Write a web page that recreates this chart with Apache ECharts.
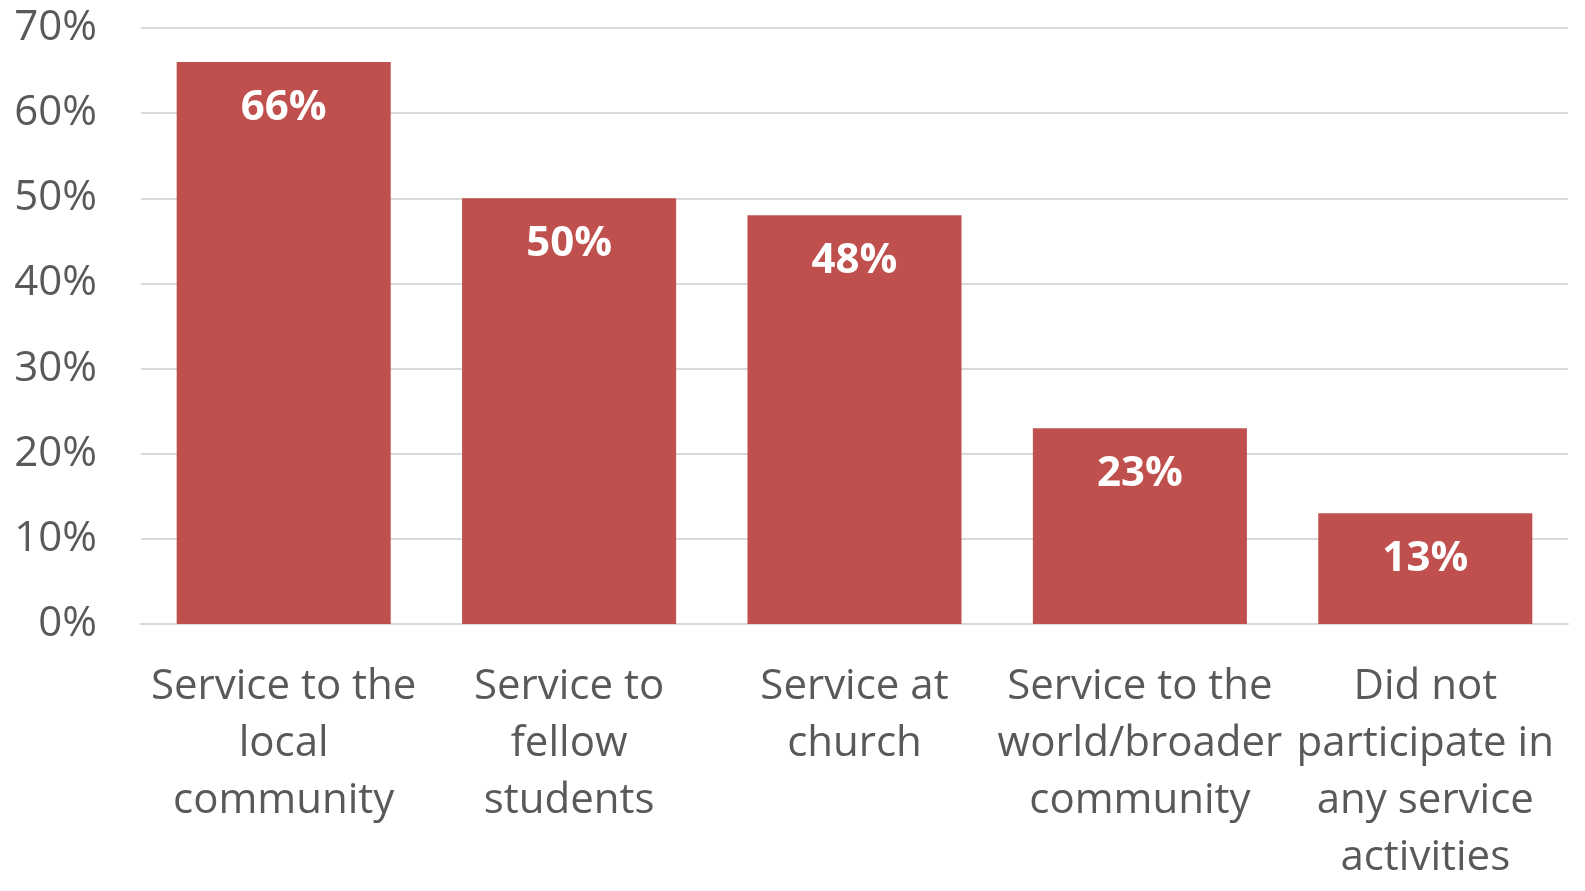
<!DOCTYPE html>
<html>
<head>
<meta charset="utf-8">
<script src="https://cdn.jsdelivr.net/npm/echarts@6/dist/echarts.min.js"></script>
<style>
html,body{margin:0;padding:0;background:#fff;overflow:hidden;width:100%;height:100%;}
#chart{width:100vw;height:100vh;}
</style>
</head>
<body>
<div id="chart"></div>
<script>
const categories = [
  "Service to the\nlocal\ncommunity",
  "Service to\nfellow\nstudents",
  "Service at\nchurch",
  "Service to the\nworld/broader\ncommunity",
  "Did not\nparticipate in\nany service\nactivities"
];
const values = [66, 50, 48, 23, 13];
const yTicks = { min: 0, max: 70, interval: 10 };

const FONT = '"Open Sans", "Noto Sans", sans-serif';
const chart = echarts.init(document.getElementById('chart'));
chart.setOption({
  animation: false,
  grid: { left: 141, right: 17, top: 28, bottom: 267, containLabel: false },
  xAxis: {
    type: 'category',
    data: categories,
    axisLine: { show: true, lineStyle: { color: '#D9D9D9', width: 2 } },
    axisTick: { show: false },
    axisLabel: {
      interval: 0,
      color: '#595959',
      fontFamily: FONT,
      fontSize: 42,
      lineHeight: 57,
      margin: 35,
      align: 'center'
    }
  },
  yAxis: {
    type: 'value',
    min: yTicks.min,
    max: yTicks.max,
    interval: yTicks.interval,
    axisLine: { show: false },
    axisTick: { show: false },
    splitLine: { show: true, lineStyle: { color: '#D9D9D9', width: 2 } },
    axisLabel: {
      color: '#595959',
      fontFamily: FONT,
      fontSize: 42,
      margin: 44,
      formatter: v => v + '%'
    }
  },
  series: [{
    type: 'bar',
    data: values,
    barWidth: '75%',
    itemStyle: { color: '#C0504D' },
    label: {
      show: true,
      position: 'insideTop',
      distance: 25,
      color: '#FFFFFF',
      fontFamily: FONT,
      fontWeight: 'bold',
      fontSize: 42,
      formatter: p => p.value + '%'
    }
  }]
});
window.addEventListener('resize', () => chart.resize());
</script>
</body>
</html>
